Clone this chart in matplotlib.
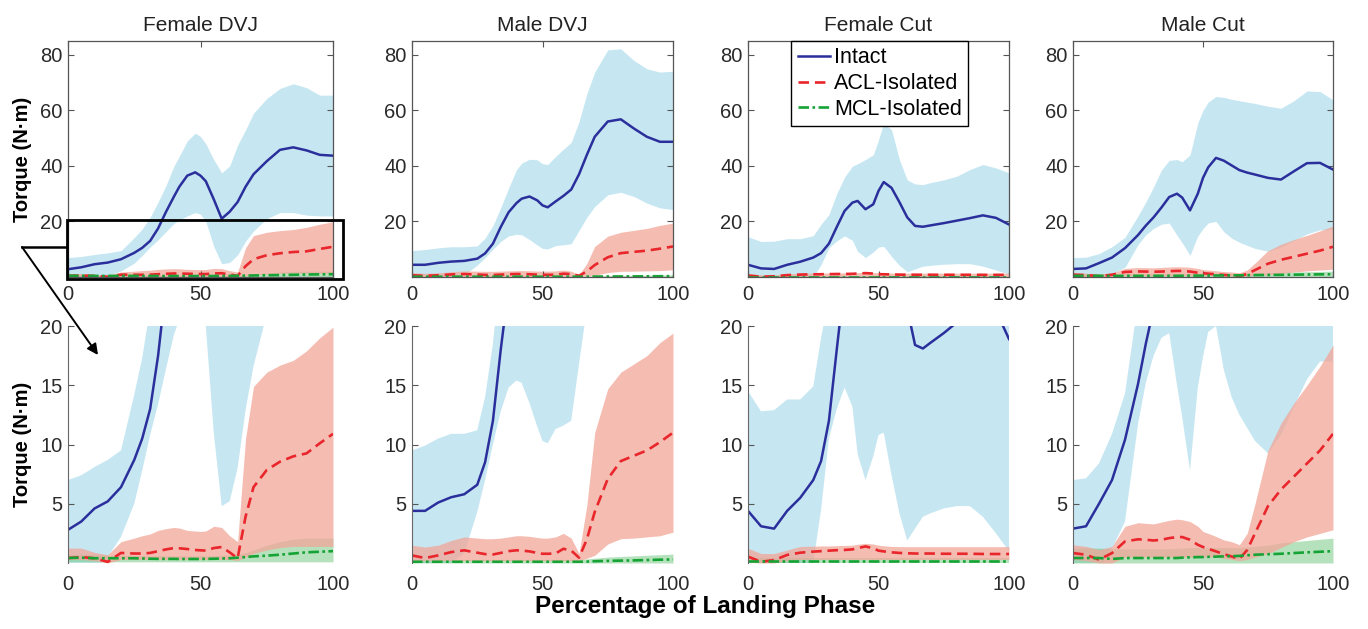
import matplotlib.pyplot as plt
import numpy as np
from matplotlib.patches import Rectangle, FancyArrowPatch
from matplotlib.lines import Line2D

plt.rcParams['font.family'] = ['Liberation Sans', 'DejaVu Sans']

# percentage of landing phase
pct = [0, 5, 10, 15, 20, 25, 28, 31, 34, 37, 40, 42, 45, 48, 50, 52, 55, 58, 61, 64, 67, 70, 75, 80, 85, 90, 95, 100]
titles = ["Female DVJ", "Male DVJ", "Female Cut", "Male Cut"]

# ---- Female DVJ ----
fdvj_int = [2.8, 3.5, 4.6, 5.2, 6.4, 8.7, 10.5, 13.0, 17.5, 23.5, 29.0, 32.5, 36.5, 37.7, 36.5, 34.5, 28.0, 21.0, 23.5, 27.0, 32.5, 37.0, 41.7, 45.8, 46.7, 45.6, 44.0, 43.7]
fdvj_int_up = [7.0, 7.4, 8.1, 8.7, 9.5, 14.2, 17.3, 21.5, 27.0, 33.0, 40.0, 43.5, 49.0, 51.8, 50.6, 48.0, 42.3, 37.5, 40.0, 47.5, 53.0, 59.0, 64.3, 67.9, 69.6, 68.2, 65.5, 65.5]
fdvj_int_lo = [-1.0, -1.0, -0.5, 0.5, 2.2, 5.0, 7.8, 10.8, 13.4, 16.4, 19.3, 20.5, 22.0, 23.2, 22.6, 20.0, 11.0, 4.8, 5.2, 8.0, 12.9, 16.6, 21.0, 23.2, 23.2, 22.3, 22.0, 22.0]
fdvj_acl = [0.42, 0.5, 0.4, 0.1, 0.85, 0.8, 0.8, 0.85, 1.0, 1.15, 1.26, 1.24, 1.18, 1.1, 1.07, 1.05, 1.26, 1.35, 0.9, 0.4, 3.9, 6.4, 7.85, 8.55, 9.0, 9.25, 10.1, 10.9]
fdvj_acl_up = [1.26, 1.26, 0.9, 0.7, 1.8, 2.1, 2.3, 2.45, 2.75, 2.9, 3.0, 2.95, 2.75, 2.7, 2.66, 2.7, 3.1, 3.0, 2.3, 1.8, 10.5, 14.9, 16.1, 16.7, 17.1, 17.9, 19.0, 19.9]
fdvj_acl_lo = [0.3, 0.3, 0.2, 0.0, 0.3, 0.3, 0.3, 0.3, 0.3, 0.3, 0.3, 0.3, 0.3, 0.3, 0.3, 0.3, 0.3, 0.3, 0.3, 0.2, 0.5, 0.8, 1.1, 1.3, 1.4, 1.4, 1.4, 1.4]
fdvj_mcl = [0.42, 0.45, 0.4, 0.4, 0.4, 0.4, 0.38, 0.36, 0.35, 0.35, 0.35, 0.34, 0.34, 0.34, 0.34, 0.35, 0.36, 0.38, 0.4, 0.45, 0.5, 0.56, 0.62, 0.7, 0.8, 0.9, 0.95, 1.0]
fdvj_mcl_up = [0.7, 0.75, 0.7, 0.65, 0.65, 0.65, 0.62, 0.6, 0.6, 0.6, 0.6, 0.6, 0.6, 0.6, 0.6, 0.6, 0.62, 0.65, 0.68, 0.72, 0.85, 1.1, 1.5, 1.8, 2.0, 2.1, 2.1, 2.1]
fdvj_mcl_lo = [0.1, 0.1, 0.1, 0.1, 0.1, 0.1, 0.1, 0.1, 0.1, 0.1, 0.1, 0.1, 0.1, 0.1, 0.1, 0.1, 0.1, 0.1, 0.1, 0.1, 0.1, 0.1, 0.1, 0.1, 0.1, 0.1, 0.1, 0.1]

# ---- Male DVJ ----
mdvj_int = [4.4, 4.4, 5.1, 5.55, 5.8, 6.6, 8.5, 12.0, 18.0, 23.3, 26.6, 28.2, 29.0, 27.6, 25.8, 25.1, 27.2, 29.2, 31.5, 37.0, 44.0, 50.5, 56.0, 56.8, 53.5, 50.5, 48.7, 48.7]
mdvj_int_up = [9.5, 9.9, 10.5, 10.9, 10.9, 11.2, 14.0, 18.5, 25.0, 32.0, 38.6, 41.0, 42.4, 42.2, 40.8, 40.5, 43.4, 46.0, 48.5, 56.0, 66.0, 73.8, 81.8, 82.2, 78.0, 75.0, 73.8, 74.1]
mdvj_int_lo = [-1.0, -1.0, -0.5, 0.0, 0.8, 4.3, 7.0, 10.0, 12.8, 14.8, 15.4, 15.2, 13.5, 11.5, 10.3, 10.1, 11.3, 11.6, 12.0, 16.8, 21.5, 25.4, 29.6, 30.5, 29.0, 26.6, 24.9, 24.3]
mdvj_acl = [0.64, 0.42, 0.64, 0.92, 1.07, 0.87, 0.75, 0.72, 0.85, 1.0, 1.07, 1.05, 0.98, 0.85, 0.78, 0.78, 0.8, 1.2, 1.05, 0.45, 2.0, 4.3, 7.1, 8.6, 9.05, 9.5, 10.2, 11.0]
mdvj_acl_up = [1.5, 1.35, 1.5, 1.9, 2.2, 2.1, 2.05, 2.05, 2.1, 2.2, 2.3, 2.3, 2.25, 2.15, 2.1, 2.1, 2.2, 2.5, 2.1, 0.8, 4.9, 11.0, 14.7, 16.1, 16.8, 17.5, 18.6, 19.4]
mdvj_acl_lo = [0.2, 0.2, 0.2, 0.2, 0.2, 0.2, 0.2, 0.2, 0.2, 0.2, 0.2, 0.2, 0.2, 0.2, 0.2, 0.2, 0.2, 0.2, 0.2, 0.2, 0.4, 0.65, 1.6, 2.05, 2.1, 2.2, 2.3, 2.6]
mdvj_mcl = [0.1, 0.1, 0.1, 0.1, 0.1, 0.1, 0.1, 0.1, 0.1, 0.1, 0.1, 0.1, 0.1, 0.1, 0.1, 0.1, 0.1, 0.1, 0.1, 0.1, 0.12, 0.15, 0.18, 0.2, 0.22, 0.25, 0.28, 0.3]
mdvj_mcl_up = [0.3, 0.3, 0.3, 0.3, 0.3, 0.3, 0.3, 0.3, 0.3, 0.3, 0.3, 0.3, 0.3, 0.3, 0.3, 0.3, 0.3, 0.3, 0.3, 0.3, 0.35, 0.4, 0.5, 0.55, 0.6, 0.65, 0.7, 0.75]
mdvj_mcl_lo = [0.0, 0.0, 0.0, 0.0, 0.0, 0.0, 0.0, 0.0, 0.0, 0.0, 0.0, 0.0, 0.0, 0.0, 0.0, 0.0, 0.0, 0.0, 0.0, 0.0, 0.0, 0.0, 0.0, 0.0, 0.0, 0.0, 0.0, 0.0]

# ---- Female Cut ----
fcut_int = [4.4, 3.1, 2.9, 4.4, 5.5, 7.0, 8.6, 12.0, 18.0, 23.8, 26.8, 27.4, 24.4, 26.2, 31.0, 34.2, 32.1, 27.0, 21.5, 18.4, 18.1, 18.6, 19.4, 20.3, 21.2, 22.2, 21.3, 18.9]
fcut_int_up = [14.5, 12.8, 12.9, 13.8, 13.8, 14.9, 19.0, 22.5, 30.0, 36.0, 39.9, 40.8, 42.3, 44.0, 49.4, 55.5, 53.0, 42.3, 35.0, 33.5, 33.3, 34.0, 35.0, 36.3, 38.7, 40.5, 39.3, 37.5]
fcut_int_lo = [-2.0, -2.0, -2.0, -1.5, -1.0, 0.0, 4.5, 10.5, 13.0, 14.8, 13.2, 9.2, 7.0, 9.0, 10.8, 11.0, 7.4, 4.2, 1.9, 2.9, 3.9, 4.2, 4.6, 4.8, 4.8, 3.9, 2.5, 1.0]
fcut_acl = [0.54, 0.1, 0.25, 0.68, 0.87, 0.96, 1.0, 1.04, 1.08, 1.1, 1.15, 1.25, 1.4, 1.24, 1.04, 0.98, 0.9, 0.85, 0.82, 0.8, 0.8, 0.8, 0.78, 0.78, 0.78, 0.76, 0.76, 0.76]
fcut_acl_up = [1.24, 0.8, 0.8, 1.1, 1.4, 1.42, 1.44, 1.44, 1.46, 1.48, 1.5, 1.58, 1.66, 1.6, 1.5, 1.45, 1.4, 1.38, 1.38, 1.38, 1.38, 1.38, 1.38, 1.38, 1.38, 1.38, 1.38, 1.38]
fcut_acl_lo = [0.05, 0.0, 0.0, 0.2, 0.3, 0.3, 0.3, 0.3, 0.3, 0.3, 0.3, 0.3, 0.3, 0.3, 0.3, 0.3, 0.3, 0.3, 0.3, 0.3, 0.3, 0.3, 0.3, 0.3, 0.3, 0.3, 0.3, 0.3]
fcut_mcl = [0.15, 0.15, 0.15, 0.15, 0.15, 0.15, 0.15, 0.15, 0.15, 0.15, 0.15, 0.15, 0.15, 0.15, 0.15, 0.15, 0.15, 0.15, 0.15, 0.15, 0.15, 0.15, 0.15, 0.15, 0.15, 0.15, 0.15, 0.15]
fcut_mcl_up = [0.4, 0.4, 0.4, 0.4, 0.4, 0.4, 0.4, 0.4, 0.4, 0.4, 0.4, 0.4, 0.4, 0.4, 0.4, 0.4, 0.4, 0.4, 0.4, 0.4, 0.4, 0.4, 0.4, 0.4, 0.4, 0.4, 0.4, 0.4]
fcut_mcl_lo = [0.0, 0.0, 0.0, 0.0, 0.0, 0.0, 0.0, 0.0, 0.0, 0.0, 0.0, 0.0, 0.0, 0.0, 0.0, 0.0, 0.0, 0.0, 0.0, 0.0, 0.0, 0.0, 0.0, 0.0, 0.0, 0.0, 0.0, 0.0]

# ---- Male Cut ----
mcut_int = [2.9, 3.1, 5.0, 7.0, 10.4, 15.1, 18.5, 21.5, 25.0, 28.8, 30.0, 28.6, 24.0, 30.0, 35.7, 39.5, 42.9, 41.9, 40.2, 38.5, 37.6, 36.9, 35.7, 35.1, 38.1, 41.0, 41.1, 38.7]
mcut_int_up = [7.0, 7.15, 8.4, 10.9, 14.3, 22.0, 27.0, 32.5, 38.5, 42.0, 42.3, 41.5, 44.0, 55.5, 60.0, 63.0, 65.0, 64.7, 64.0, 63.5, 63.0, 62.5, 61.5, 60.8, 63.5, 67.0, 66.8, 63.8]
mcut_int_lo = [-1.0, -1.0, -0.5, 1.2, 3.5, 11.7, 15.2, 17.5, 19.0, 19.4, 15.0, 12.3, 7.8, 14.8, 17.4, 19.5, 20.0, 16.3, 14.0, 12.5, 11.4, 10.3, 9.25, 10.8, 13.2, 15.5, 17.0, 17.0]
mcut_acl = [0.84, 0.7, 0.28, 0.84, 1.82, 2.0, 1.96, 1.9, 1.96, 2.1, 2.19, 2.19, 1.96, 1.54, 1.35, 1.2, 0.98, 0.75, 0.55, 0.34, 1.1, 2.5, 4.8, 6.2, 7.3, 8.4, 9.5, 10.9]
mcut_acl_up = [1.54, 1.4, 1.12, 1.4, 3.1, 3.4, 3.35, 3.3, 3.45, 3.6, 3.7, 3.65, 3.5, 3.1, 2.66, 2.5, 2.24, 1.95, 1.8, 1.54, 2.5, 5.0, 9.5, 11.8, 13.5, 15.0, 16.6, 18.4]
mcut_acl_lo = [0.3, 0.2, 0.0, 0.0, 0.5, 0.5, 0.5, 0.5, 0.5, 0.5, 0.5, 0.5, 0.5, 0.5, 0.5, 0.5, 0.5, 0.4, 0.3, 0.2, 0.3, 0.5, 0.8, 1.3, 1.8, 2.2, 2.5, 2.8]
mcut_mcl = [0.42, 0.42, 0.42, 0.34, 0.42, 0.42, 0.42, 0.42, 0.42, 0.42, 0.42, 0.45, 0.48, 0.5, 0.5, 0.52, 0.54, 0.56, 0.58, 0.6, 0.65, 0.7, 0.74, 0.78, 0.84, 0.9, 0.95, 1.0]
mcut_mcl_up = [1.26, 1.26, 1.26, 1.2, 1.2, 1.2, 1.2, 1.2, 1.2, 1.2, 1.25, 1.25, 1.3, 1.3, 1.3, 1.3, 1.3, 1.3, 1.3, 1.3, 1.35, 1.4, 1.5, 1.7, 1.8, 1.9, 2.0, 2.1]
mcut_mcl_lo = [0.0, 0.0, 0.0, 0.0, 0.0, 0.0, 0.0, 0.0, 0.0, 0.0, 0.0, 0.0, 0.0, 0.0, 0.0, 0.0, 0.0, 0.0, 0.0, 0.0, 0.0, 0.0, 0.0, 0.0, 0.0, 0.0, 0.0, 0.0]

panels = [
    (fdvj_int, fdvj_int_up, fdvj_int_lo, fdvj_acl, fdvj_acl_up, fdvj_acl_lo, fdvj_mcl, fdvj_mcl_up, fdvj_mcl_lo),
    (mdvj_int, mdvj_int_up, mdvj_int_lo, mdvj_acl, mdvj_acl_up, mdvj_acl_lo, mdvj_mcl, mdvj_mcl_up, mdvj_mcl_lo),
    (fcut_int, fcut_int_up, fcut_int_lo, fcut_acl, fcut_acl_up, fcut_acl_lo, fcut_mcl, fcut_mcl_up, fcut_mcl_lo),
    (mcut_int, mcut_int_up, mcut_int_lo, mcut_acl, mcut_acl_up, mcut_acl_lo, mcut_mcl, mcut_mcl_up, mcut_mcl_lo),
]

blue_fill = "#c6e7f2"
pink_fill = "#f2a698"
green_fill = "#6cc47a"
navy = "#2b2f9c"
red = "#e8262b"
green = "#16a335"
tick_col = "#2a2a2a"

W, H = 1368, 629
fig = plt.figure(figsize=(W / 100, H / 100), dpi=100)

lefts = [68, 412, 748, 1073]
rights = [333, 673, 1009, 1333]
rows = [(41, 277), (326, 563)]


def add_ax(l, r, t, b):
    return fig.add_axes([l / W, 1 - b / H, (r - l) / W, (b - t) / H])


axes_top = []
for i in range(4):
    im, iu, il, am, au, al, mm, mu, ml = panels[i]
    for row in range(2):
        t, b = rows[row]
        ax = add_ax(lefts[i], rights[i], t, b)
        ax.fill_between(pct, il, iu, color=blue_fill, lw=0)
        ax.fill_between(pct, ml, mu, color=green_fill, alpha=0.5, lw=0)
        ax.fill_between(pct, al, au, color=pink_fill, alpha=0.75, lw=0)
        ax.plot(pct, im, color=navy, lw=1.8, label="Intact")
        ax.plot(pct, am, color=red, lw=1.9, ls=(0, (4, 2.2)), label="ACL-Isolated")
        ax.plot(pct, mm, color=green, lw=1.9, ls=(0, (4, 1.3, 1, 1.3)), label="MCL-Isolated")
        ax.set_xlim(0, 100)
        ax.set_xticks([0, 50, 100])
        if row == 0:
            ax.set_ylim(0, 85)
            ax.set_yticks([20, 40, 60, 80])
            ax.tick_params(direction="in", top=True, right=True, length=4, width=0.8,
                           labelsize=14.5, labelcolor=tick_col, color="#555555")
            ax.tick_params(axis="x", pad=6)
            ax.tick_params(axis="y", pad=4)
            for s in ax.spines.values():
                s.set_color("#555555")
                s.set_linewidth(0.9)
            ax.set_title(titles[i], fontsize=15, pad=7, color="#222222")
            axes_top.append(ax)
        else:
            ax.set_ylim(0, 20)
            ax.set_yticks([5, 10, 15, 20])
            for s in ["top", "right", "bottom"]:
                ax.spines[s].set_visible(False)
            ax.spines["left"].set_color("#666666")
            ax.tick_params(axis="y", direction="in", length=4, width=0.8, pad=4,
                           labelsize=14.5, labelcolor=tick_col, color="#555555")
            ax.tick_params(axis="x", length=0, pad=9, labelsize=14.5, labelcolor=tick_col)
        if i == 0:
            ax.set_ylabel("Torque (N·m)", fontsize=14.5, fontweight="bold")
            ax.yaxis.set_label_coords(-0.136, 0.5)

# legend in Female Cut panel
leg = axes_top[2].legend(loc="upper center", bbox_to_anchor=(0.505, 1.0), borderaxespad=0,
                         fontsize=15.5, fancybox=False, edgecolor="black", framealpha=1,
                         handlelength=1.5, handletextpad=0.2, labelspacing=0.22,
                         borderpad=0.3)
leg.get_frame().set_linewidth(1.0)

# zoom box on Female DVJ top panel
ax0 = axes_top[0]
ax0.add_patch(Rectangle((-0.4, -0.7), 104.2, 21.4, fill=False, ec="black", lw=2,
                        clip_on=False, zorder=5))


def fpt(x, y):
    return x / W, 1 - y / H


x1, y1 = fpt(67, 247)
x2, y2 = fpt(22, 247)
x3, y3 = fpt(98, 355)
fig.add_artist(Line2D([x1, x2], [y1, y2], transform=fig.transFigure, color="black", lw=1.8))
fig.add_artist(FancyArrowPatch((x2, y2), (x3, y3), transform=fig.transFigure,
                               arrowstyle="-|>", mutation_scale=16, color="black", lw=1.4,
                               shrinkA=0, shrinkB=0))

fig.text(705 / W, 1 - 607 / H, "Percentage of Landing Phase", ha="center", va="center",
         fontsize=17.5, fontweight="bold")

fig.savefig("out.png", dpi=100)
